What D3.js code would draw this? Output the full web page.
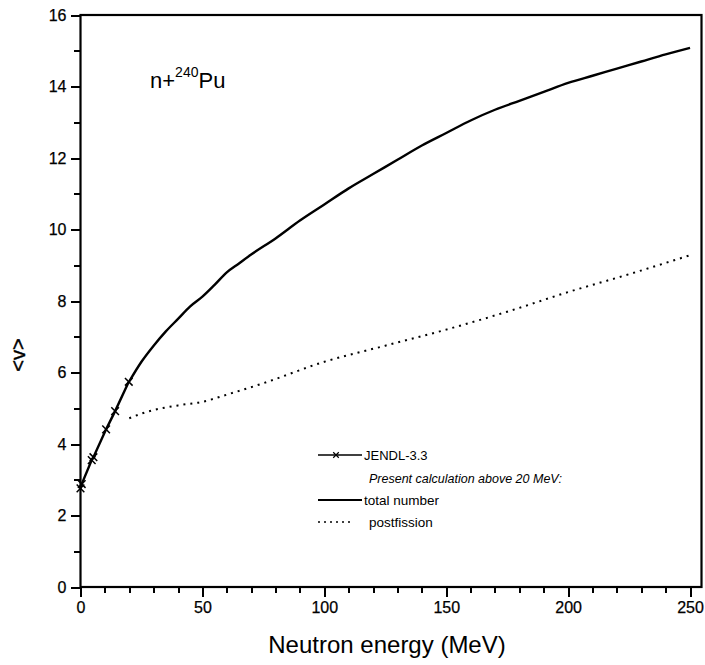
<!DOCTYPE html>
<html><head><meta charset="utf-8">
<script src="https://cdn.jsdelivr.net/npm/d3@7"></script>
<style>body{margin:0;background:#fff}svg{display:block}text{font-family:"Liberation Sans",Arial,Helvetica,sans-serif;fill:#000}</style>
</head><body><svg id="c" width="705" height="665"></svg>
<script>
const jendlE = [0, 0.5, 4.6, 5.3, 10.5, 14.2, 19.8];
const jendlNu = [2.76, 2.88, 3.55, 3.63, 4.41, 4.92, 5.74];
const totalE = [20,25,30,35,40,45,50,55,60,65,70,80,90,100,110,120,130,140,150,160,170,180,190,200,210,220,230,240,250];
const totalNu = [5.75,6.3,6.75,7.15,7.5,7.85,8.12,8.45,8.8,9.05,9.3,9.75,10.25,10.7,11.15,11.55,11.95,12.35,12.7,13.05,13.35,13.6,13.85,14.1,14.3,14.5,14.7,14.9,15.08];
const postE = [20,25,30,40,50,60,75,100,125,150,175,200,225,250];
const postNu = [4.72,4.85,4.95,5.08,5.18,5.38,5.7,6.3,6.75,7.2,7.7,8.25,8.75,9.28];
const xTicks = [0,50,100,150,200,250];
const yTicks = [0,2,4,6,8,10,12,14,16];

const svg = d3.select("#c");
const L=80.5, R=701.5, T=15, B=587;
const x = d3.scaleLinear().domain([0,254.7]).range([L,R]);
const y = d3.scaleLinear().domain([0,16]).range([B,T]);

// frame
svg.append("rect").attr("x",L).attr("y",T).attr("width",R-L).attr("height",B-T)
  .attr("fill","none").attr("stroke","#000").attr("stroke-width",2.2);

function styleAxis(g){
  g.select(".domain").remove();
  g.selectAll("line").attr("stroke","#000").attr("stroke-width",2).attr("shape-rendering","crispEdges");
  g.selectAll("text").attr("font-size",16).attr("fill","#000").attr("stroke","#000").attr("stroke-width",0.25)
   .attr("font-family","Liberation Sans, Arial, sans-serif");
}
// bottom axis
const gx = svg.append("g").attr("transform",`translate(0,${B})`);
gx.call(d3.axisBottom(x).tickValues(d3.range(0,251,10)).tickSize(6).tickFormat(""));
const gxMaj = svg.append("g").attr("transform",`translate(0,${B})`);
gxMaj.call(d3.axisBottom(x).tickValues(xTicks).tickSize(10).tickPadding(5).tickFormat(d3.format("d")));
styleAxis(gx); styleAxis(gxMaj);

// left axis
const gy = svg.append("g").attr("transform",`translate(${L},0)`);
gy.call(d3.axisLeft(y).tickValues(d3.range(0,17,1)).tickSize(7).tickFormat(""));
const gyMaj = svg.append("g").attr("transform",`translate(${L},0)`);
gyMaj.call(d3.axisLeft(y).tickValues(yTicks).tickSize(10).tickPadding(4).tickFormat(d3.format("d")));
styleAxis(gy); styleAxis(gyMaj);

// axis titles
svg.append("text").attr("x",387).attr("y",653).attr("text-anchor","middle")
  .attr("font-size",24).text("Neutron energy (MeV)");
svg.append("text").attr("transform",`translate(25,${(T+B)/2+54}) rotate(-90)`).attr("text-anchor","middle")
  .attr("font-size",20).attr("stroke","#000").attr("stroke-width",0.4).text("<v>");

// lines
const line = d3.line().x(d=>x(d[0])).y(d=>y(d[1])).curve(d3.curveMonotoneX);
const lin = d3.line().x(d=>x(d[0])).y(d=>y(d[1]));
svg.append("path").attr("d",line(totalE.map((e,i)=>[e,totalNu[i]])))
  .attr("fill","none").attr("stroke","#000").attr("stroke-width",2.4);
svg.append("path").attr("d",line(postE.map((e,i)=>[e,postNu[i]])))
  .attr("fill","none").attr("stroke","#000").attr("stroke-width",2).attr("stroke-dasharray","2,5");
const jd = jendlE.map((e,i)=>[e,jendlNu[i]]);
svg.append("path").attr("d",lin(jd)).attr("fill","none").attr("stroke","#000").attr("stroke-width",2.4);
const cross = d3.symbol().type(d3.symbolX).size(40);
svg.selectAll(".jm").data(jd).join("path").attr("class","jm")
  .attr("transform",d=>`translate(${x(d[0])},${y(d[1])})`).attr("d",cross)
  .attr("fill","none").attr("stroke","#000").attr("stroke-width",1.5);

// annotation
const ann = svg.append("text").attr("x",150).attr("y",88).attr("font-size",22);
ann.append("tspan").text("n+");
ann.append("tspan").attr("font-size",14).attr("dy",-11).text("240");
ann.append("tspan").attr("dy",11).text("Pu");

// legend
const lx1=318, lx2=362, tx=364;
svg.append("line").attr("x1",lx1).attr("x2",lx2).attr("y1",455).attr("y2",455).attr("stroke","#000").attr("stroke-width",1.5);
svg.append("path").attr("transform",`translate(${(lx1+lx2)/2-4},455)`).attr("d",d3.symbol().type(d3.symbolX).size(22))
  .attr("fill","none").attr("stroke","#000").attr("stroke-width",1.2);
svg.append("text").attr("x",tx).attr("y",460).attr("font-size",13).text("JENDL-3.3");
svg.append("text").attr("x",369).attr("y",483).attr("font-size",12.5).attr("font-style","italic").text("Present calculation above 20 MeV:");
svg.append("line").attr("x1",lx1).attr("x2",lx2).attr("y1",500).attr("y2",500).attr("stroke","#000").attr("stroke-width",1.8);
svg.append("text").attr("x",tx).attr("y",505).attr("font-size",13.5).text("total number");
svg.append("line").attr("x1",lx1).attr("x2",lx2-8).attr("y1",522).attr("y2",522).attr("stroke","#000").attr("stroke-width",1.5).attr("stroke-dasharray","2,4");
svg.append("text").attr("x",tx+5).attr("y",527).attr("font-size",13.5).text("postfission");
</script></body></html>
